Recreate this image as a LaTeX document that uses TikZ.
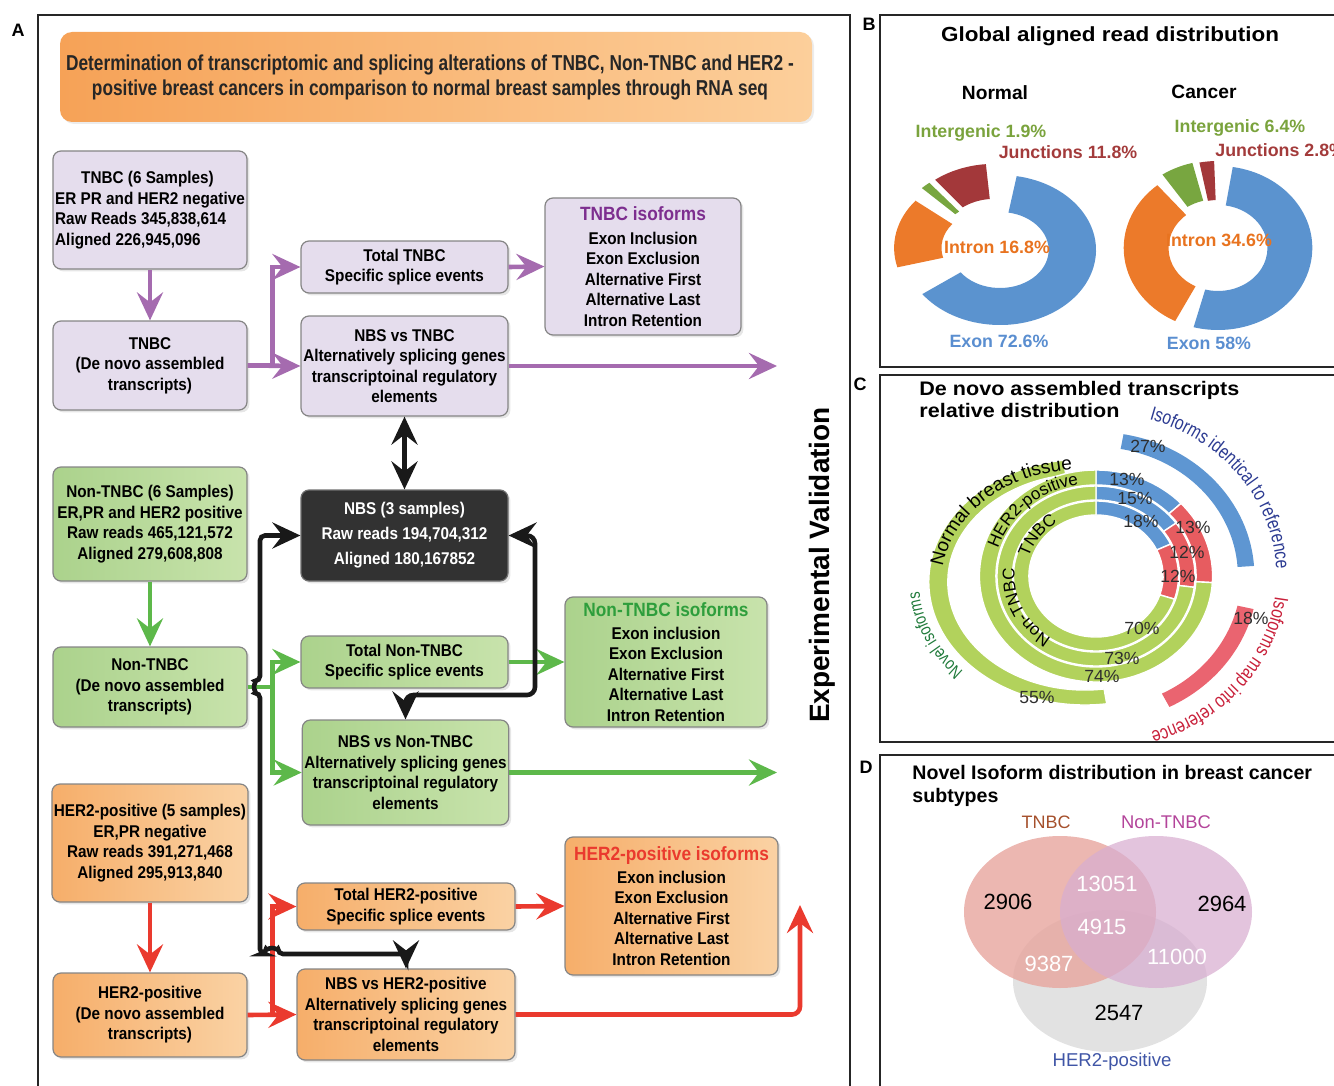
\documentclass[tikz,border=0pt]{standalone}
\usepackage{fontspec}
\setmainfont{Liberation Sans}
\newfontfamily\boxfont{Liberation Sans}[FakeStretch=0.9]
\newfontfamily\titlefont{Liberation Sans}[FakeStretch=0.8]
\newfontfamily\widefont{Liberation Sans}[FakeStretch=1.1]
\newfontfamily\narrowsans{Liberation Sans}[FakeStretch=0.8]
\usetikzlibrary{arrows.meta, shadows, calc, decorations.text}

\definecolor{lilac}{HTML}{E5DDED}
\definecolor{plum}{HTML}{A56BAF}
\definecolor{plumtext}{HTML}{7D2E8F}
\definecolor{leafA}{HTML}{ABD28C}
\definecolor{leafB}{HTML}{C8E3AC}
\definecolor{leaf}{HTML}{5DB84A}
\definecolor{leaftext}{HTML}{2E9E3C}
\definecolor{peachA}{HTML}{F6AE6A}
\definecolor{peachB}{HTML}{FAD2A4}
\definecolor{tomato}{HTML}{EA3A2E}
\definecolor{boxline}{HTML}{858585}
\definecolor{nbsfill}{HTML}{323232}
\definecolor{bannerA}{HTML}{F6A257}
\definecolor{bannerB}{HTML}{FCCF9B}
\definecolor{exonblue}{HTML}{5B93CF}
\definecolor{intronorange}{HTML}{EC7A2A}
\definecolor{intergreen}{HTML}{78A640}
\definecolor{junctred}{HTML}{A3383A}
\definecolor{exlab}{HTML}{5A8ED0}
\definecolor{inlab}{HTML}{E8731F}
\definecolor{intlab}{HTML}{7AA33D}
\definecolor{junlab}{HTML}{A33B3B}
\definecolor{ringgreen}{HTML}{B2D25C}
\definecolor{ringblue}{HTML}{5E96D2}
\definecolor{ringred}{HTML}{E75C60}
\definecolor{arcred}{HTML}{EA6470}
\definecolor{isoblue}{HTML}{2C3B92}
\definecolor{isored}{HTML}{C8203A}
\definecolor{novelgreen}{HTML}{1F7A3A}
\definecolor{pctgray}{HTML}{2E2E2E}
\definecolor{tnbcpink}{HTML}{E7A59E}
\definecolor{ntlilac}{HTML}{D8ADD0}
\definecolor{hergray}{HTML}{E2E2E2}
\definecolor{tnbclab}{HTML}{A5502C}
\definecolor{ntlab}{HTML}{B3449A}
\definecolor{herlab}{HTML}{3F55A6}

\newcommand{\bx}{\boxfont\bfseries\fontsize{8.5}{10.25}\selectfont}
\newcommand{\isohead}[2]{{\fontsize{9.6}{11}\selectfont\color{#1}#2}}
\newcommand{\curvenarrow}{\narrowsans\fontsize{9.8}{11}\selectfont}
\newcommand{\curvesmall}{\narrowsans\fontsize{8.8}{10}\selectfont}
\newcommand{\curvesans}{\fontsize{9.5}{11}\selectfont}
\newcommand{\curveinner}{\fontsize{8.5}{10}\selectfont}
\newcommand{\ringpart}[5]{\fill[#1] (#2:#5) arc[start angle=#2, end angle=#3, radius=#5] -- (#3:#4) arc[start angle=#3, end angle=#2, radius=#4] -- cycle;}

\tikzset{
  flow/.style={draw=boxline, line width=0.6pt, rounded corners=4pt, align=center, inner sep=1pt, font=\bx,
    drop shadow={opacity=0.2, shadow xshift=1.2pt, shadow yshift=-1.2pt}},
  tnbcbox/.style={flow, fill=lilac},
  ntbox/.style={flow, left color=leafA, right color=leafB},
  herbox/.style={flow, left color=peachA, right color=peachB},
  nbsbox/.style={flow, fill=nbsfill, draw=nbsfill!70!white, text=white},
  parr/.style={draw=plum, line width=2.3pt, -{Stealth[length=14pt,width=13pt,inset=5pt]}},
  garr/.style={draw=leaf, line width=2.3pt, -{Stealth[length=14pt,width=13pt,inset=5pt]}},
  rarr/.style={draw=tomato, line width=2.3pt, -{Stealth[length=14pt,width=13pt,inset=5pt]}},
  barr/.style={draw=black!90, line width=2.3pt, {Stealth[length=14pt,width=13pt,inset=5pt]}-{Stealth[length=14pt,width=13pt,inset=5pt]}},
  frame/.style={draw=black!85, line width=0.8pt},
  panel/.style={font=\bfseries\fontsize{9}{10}\selectfont},
  pielab/.style={font=\bfseries\fontsize{8.9}{10}\selectfont, inner sep=0pt},
  pct/.style={font=\fontsize{8.8}{10}\selectfont, text=pctgray, inner sep=0pt},
  vnum/.style={font=\fontsize{11}{12}\selectfont, inner sep=0pt},
  seg/.style={draw=white, line width=0.7pt}
}

\begin{document}
\begin{tikzpicture}[x=0.5pt, y=-0.5pt]
\useasboundingbox (0,0) rectangle (1334,1086);

% panel frames and letters
\draw[frame] (38,1090) -- (38,15) -- (850,15) -- (850,1090);
\draw[frame] (1340,15) -- (880,15) -- (880,367) -- (1340,367);
\draw[frame] (1340,375) -- (880,375) -- (880,742) -- (1340,742);
\draw[frame] (880,1090) -- (880,755) -- (1340,755);
\node[panel] (labA) at (18,30) {A};
\node[panel] (labB) at (869,24) {B};
\node[panel] (labC) at (860,384) {C};
\node[panel] (labD) at (866,767) {D};

% ---------- A ----------
\node[rounded corners=6pt, left color=bannerA, right color=bannerB, minimum width=376pt, minimum height=45pt,
  align=center, text=black!85, font=\titlefont\bfseries\fontsize{10.8}{12.5}\selectfont,
  drop shadow={opacity=0.15, shadow xshift=1pt, shadow yshift=-1pt}] (banner) at (436,77)
  {\hspace*{-6pt}Determination of transcriptomic and splicing alterations of TNBC, Non-TNBC and HER2 -\\\hspace*{-6pt}positive breast cancers in comparison to normal breast samples through RNA seq};

\node[tnbcbox, minimum width=97pt, minimum height=59pt, align=left] (tnbc) at (150,210)
  {\hspace*{13pt}TNBC (6 Samples)\\ER PR and HER2 negative\\Raw Reads 345,838,614\\Aligned 226,945,096};
\node[tnbcbox, minimum width=97pt, minimum height=44.5pt] (tnbcdn) at (150,365.5) {TNBC\\(De novo assembled\\transcripts)};
\node[tnbcbox, minimum width=103.5pt, minimum height=26pt] (tottnbc) at (404.5,267) {Total TNBC\\Specific splice events};
\node[tnbcbox, minimum width=103.5pt, minimum height=50pt] (nbstnbc) at (404.5,366)
  {NBS vs TNBC\\Alternatively splicing genes\\transcriptoinal regulatory\\elements};
\node[tnbcbox, minimum width=98pt, minimum height=68.5pt] (tnbciso) at (643,266.5)
  {\isohead{plumtext}{TNBC isoforms}\\[1.5pt]Exon Inclusion\\Exon Exclusion\\Alternative First\\Alternative Last\\Intron Retention};

\node[ntbox, minimum width=97pt, minimum height=57pt] (nt) at (150,524)
  {Non-TNBC (6 Samples)\\ER,PR and HER2 positive\\Raw reads 465,121,572\\Aligned 279,608,808};
\node[ntbox, minimum width=97pt, minimum height=40pt] (ntdn) at (150,687) {Non-TNBC\\(De novo assembled\\transcripts)};
\node[nbsbox, minimum width=103.5pt, minimum height=45.5pt] (nbs) at (404.5,535.5)
  {NBS (3 samples)\\[2.25pt]Raw reads 194,704,312\\[2.25pt]Aligned 180,167852};
\node[ntbox, minimum width=103.5pt, minimum height=26pt] (totnt) at (404.5,662) {Total Non-TNBC\\Specific splice events};
\node[ntbox, minimum width=101pt, minimum height=65pt] (ntiso) at (666,662)
  {\isohead{leaftext}{Non-TNBC isoforms}\\[1pt]Exon inclusion\\Exon Exclusion\\Alternative First\\Alternative Last\\Intron Retention};
\node[ntbox, minimum width=102.5pt, minimum height=52.5pt] (nbsnt) at (405.5,772.5)
  {NBS vs Non-TNBC\\Alternatively splicing genes\\transcriptoinal regulatory\\elements};

\node[herbox, minimum width=97pt, minimum height=59pt] (her) at (150,843)
  {HER2-positive (5 samples)\\ER,PR negative\\Raw reads 391,271,468\\Aligned 295,913,840};
\node[herbox, minimum width=97pt, minimum height=42pt] (herdn) at (150,1015) {HER2-positive\\(De novo assembled\\transcripts)};
\node[herbox, minimum width=109pt, minimum height=23.5pt] (tother) at (406,906.5) {Total HER2-positive\\Specific splice events};
\node[herbox, minimum width=106.5pt, minimum height=69pt] (heriso) at (671.5,906)
  {\isohead{tomato}{HER2-positive isoforms}\\[1pt]Exon inclusion\\Exon Exclusion\\Alternative First\\Alternative Last\\Intron Retention};
\node[herbox, minimum width=109pt, minimum height=45.5pt] (nbsher) at (406,1014.5)
  {NBS vs HER2-positive\\Alternatively splicing genes\\transcriptoinal regulatory\\elements};

\node[rotate=90, font=\bfseries\fontsize{14}{14}\selectfont] (expval) at (822,565) {Experimental Validation};

\coordinate (tnbcout) at (777,366);
\coordinate (ntout) at (777,772.5);
\coordinate (herout) at (800,905);
\coordinate (rturn) at (535,695);
\coordinate (lhop) at (260,681);
\coordinate (bhop) at (266,954);

\draw[parr] (tnbc) -- (tnbcdn);
\draw[parr] (tnbcdn.east) -- (nbstnbc.west);
\draw[parr] (tnbcdn.east) -- ++(25,0) |- (tottnbc.west);
\draw[parr] (tottnbc.east) -- (tnbciso.west);
\draw[parr] (nbstnbc.east) -- (tnbcout);

\draw[garr] (nt) -- (ntdn);
\draw[garr] (ntdn.east) -- ++(25,0) |- (totnt.west);
\draw[garr] (ntdn.east) -- ++(25,0) |- (nbsnt.west);
\draw[garr] (totnt.east) -- (ntiso.west);
\draw[garr] (nbsnt.east) -- (ntout);

\draw[rarr] (her) -- (herdn);
\draw[rarr] (herdn.east) -- (nbsher.west);
\draw[rarr] (herdn.east) -- ++(25,0) |- (tother.west);
\draw[rarr] (tother.east) -- (heriso.west);
\draw[rarr, rounded corners=4pt] (nbsher.east) -| (herout);

\draw[barr] (nbstnbc) -- (nbs);
\draw[barr, rounded corners=4pt] (nbs.east) -| (rturn) -| (nbsnt.north);
\draw[barr, rounded corners=2.5pt] (nbs.west) -| (lhop) arc[start angle=270, end angle=90, radius=6]
  -- (260,954) -- (bhop) arc[start angle=180, end angle=360, radius=6] -| (nbsher.north);

% ---------- B ----------
\node[font=\widefont\bfseries\fontsize{10.2}{12}\selectfont] (btitle) at (1110,36) {Global aligned read distribution};
\node[font=\bfseries\fontsize{9.6}{10}\selectfont] (normal) at (995,93) {Normal};
\node[font=\bfseries\fontsize{9.6}{10}\selectfont] (cancer) at (1204,92) {Cancer};

\begin{scope}[shift={(1000,250)}, xscale=1.28]
  \ringpart{exonblue}{-80}{144}{38}{75}
  \begin{scope}[shift={(-165:8)}] \ringpart{intronorange}{-195}{-141}{38}{75} \end{scope}
  \begin{scope}[shift={(-132:12)}] \ringpart{intergreen}{-135}{-129}{38}{75} \end{scope}
  \begin{scope}[shift={(-112:12)}] \ringpart{junctred}{-128}{-95}{40}{75} \end{scope}
\end{scope}
\begin{scope}[shift={(1218,248)}, xscale=1.15]
  \ringpart{exonblue}{-81}{105}{43}{82}
  \ringpart{intronorange}{-243}{-130}{43}{82}
  \begin{scope}[shift={(-114:6)}] \ringpart{intergreen}{-124}{-104}{43}{82} \end{scope}
  \begin{scope}[shift={(-96:5)}] \ringpart{junctred}{-101}{-92}{43}{82} \end{scope}
\end{scope}

\node[pielab, text=intlab] (nint) at (981,133) {Intergenic 1.9\%};
\node[pielab, text=junlab] (njun) at (1068,152) {Junctions 11.8\%};
\node[pielab, text=inlab] (nintron) at (997,247) {Intron 16.8\%};
\node[pielab, text=exlab] (nexon) at (999,341) {Exon 72.6\%};
\node[pielab, text=intlab] (cint) at (1240,128) {Intergenic 6.4\%};
\node[pielab, text=junlab, anchor=west] (cjun) at (1215,150) {Junctions 2.8\%};
\node[pielab, text=inlab] (cintron) at (1219,240) {Intron 34.6\%};
\node[pielab, text=exlab] (cexon) at (1209,343) {Exon 58\%};

% ---------- C ----------
\node[anchor=west, align=left, inner sep=0pt, font=\widefont\bfseries\fontsize{9.8}{11}\selectfont] (ctitle) at (919,399)
  {De novo assembled transcripts\\relative distribution};

\coordinate (rc) at (1096,576);
\coordinate (nc) at (1085,582);
\begin{scope}[shift={(1085,582)}, xscale=1.27]
  \ringpart{ringgreen, seg}{82}{262}{108}{123}
\end{scope}
\begin{scope}[shift={(1096,576)}, xscale=1.1]
  \foreach \ri/\ro/\b/\r in {61/75/-25.2/18, 76/90/-36/7.2, 91/106/-43.2/3.6}{
    \ringpart{ringblue, seg}{-90}{\b}{\ri}{\ro}
    \ringpart{ringred, seg}{\b}{\r}{\ri}{\ro}
    \ringpart{ringgreen, seg}{\r}{270}{\ri}{\ro}
  }
  \ringpart{ringblue}{-80}{-4}{129}{144}
  \ringpart{arcred}{13}{63}{132}{147}
\end{scope}

\path[decorate, decoration={text along path, text align=center, text={|\curvenarrow\color{isoblue}|Isoforms identical to reference}}]
  ($(rc)+(-85:180.4 and 164)$) arc[start angle=-85, end angle=11, x radius=180.4, y radius=164];
\path[decorate, decoration={text along path, text align=center, text={|\curvenarrow\color{isored}|Isoforms map into reference}}]
  ($(rc)+(-9:180.4 and 164)$) arc[start angle=-9, end angle=87, x radius=180.4, y radius=164];
\path[decorate, decoration={text along path, text align=center, text={|\curvesans|Normal breast tissue}}]
  ($(nc)+(175:143.5 and 113)$) arc[start angle=175, end angle=275, x radius=143.5, y radius=113];
\path[decorate, decoration={text along path, text align=center, text={|\curvesmall\color{novelgreen}|Novel isoforms}}]
  ($(nc)+(118:166 and 131)$) arc[start angle=118, end angle=198, x radius=166, y radius=131];
\path[decorate, decoration={text along path, text align=center, text={|\curveinner|HER2-positive}}]
  ($(rc)+(183:102.3 and 93)$) arc[start angle=183, end angle=273, x radius=102.3, y radius=93];
\path[decorate, decoration={text along path, text align=center, text={|\curveinner|TNBC}}]
  ($(rc)+(186:70.4 and 64)$) arc[start angle=186, end angle=247, x radius=70.4, y radius=64];
\path[decorate, decoration={text along path, text align=center, text={|\curveinner|Non-TNBC}}]
  ($(rc)+(115:81.4 and 74)$) arc[start angle=115, end angle=195, x radius=81.4, y radius=74];

\foreach \p/\x/\y [count=\i] in {13/1127/479, 15/1135/498, 18/1141/521, 13/1193/527, 12/1187/552, 12/1178/576,
    70/1142/628, 73/1122/658, 74/1102/676, 55/1037/697, 27/1148/446, 18/1251/618}
  \node[pct] (pct\i) at (\x,\y) {\p\%};

% ---------- D ----------
\node[anchor=west, align=left, inner sep=0pt, font=\bfseries\fontsize{9.8}{11.5}\selectfont] (dtitle) at (912,785.5)
  {Novel Isoform distribution in breast cancer\\subtypes};
\fill[hergray] (1110,981) ellipse[x radius=97, y radius=71];
\fill[tnbcpink, opacity=0.8] (1060,912) ellipse[x radius=96, y radius=76];
\fill[ntlilac, opacity=0.72] (1156,912) ellipse[x radius=96, y radius=76];
\node[font=\fontsize{9}{10}\selectfont, text=tnbclab] (vtnbc) at (1046,822) {TNBC};
\node[font=\fontsize{9.2}{10}\selectfont, text=ntlab] (vnt) at (1166,822) {Non-TNBC};
\node[font=\fontsize{9.3}{10}\selectfont, text=herlab] (vher) at (1112,1062) {HER2-positive};
\node[vnum] (v1) at (1008,902) {2906};
\node[vnum, text=white] (v2) at (1107,884) {13051};
\node[vnum, text=white] (v3) at (1102,927) {4915};
\node[vnum] (v4) at (1222,904) {2964};
\node[vnum, text=white] (v5) at (1049,964) {9387};
\node[vnum, text=white] (v6) at (1177,957) {11000};
\node[vnum] (v7) at (1119,1013) {2547};
\end{tikzpicture}
\end{document}
